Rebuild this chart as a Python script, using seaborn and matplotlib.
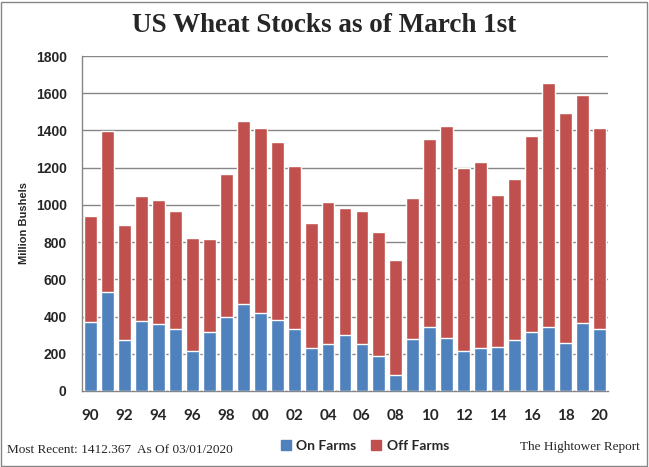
import numpy as np
import pandas as pd
import matplotlib.pyplot as plt
import seaborn as sns
from matplotlib.patches import Patch, Rectangle

years = [str(y % 100).zfill(2) for y in range(1990, 2021)]
on_farms = [371, 532, 274, 376, 362, 333, 215, 319, 398, 469, 419, 383, 333, 233,
            254, 301, 254, 190, 86, 279, 344, 287, 215, 233, 236, 276, 319, 344,
            258, 365, 333]
total = [940, 1397, 892, 1048, 1026, 967, 822, 817, 1166, 1451, 1413, 1338, 1209, 903,
         1015, 983, 967, 854, 704, 1037, 1354, 1424, 1198, 1230, 1053, 1139, 1370, 1655,
         1494, 1590, 1412]

df = pd.DataFrame({"year": years, "on": on_farms, "total": total})

sns.set_style("white")
plt.rcParams['font.family'] = ['Liberation Sans', 'DejaVu Sans']

blue = "#4F81BD"
red = "#C0504D"

fig = plt.figure(figsize=(6.49, 4.67), dpi=100)
ax = fig.add_axes([82 / 649, 76 / 467, 526 / 649, 335 / 467])

# off farms sits on top of on farms, so draw the total first in red
sns.barplot(data=df, x="year", y="total", order=years, color=red, width=0.76,
            saturation=1, ax=ax, zorder=3)
sns.barplot(data=df, x="year", y="on", order=years, color=blue, width=0.76,
            saturation=1, ax=ax, zorder=4)

ax.set_ylim(0, 1800)
ax.set_xlim(-0.5, len(years) - 0.5)
ax.set_yticks(np.arange(0, 1801, 200))
ax.yaxis.grid(True, color="#868686", linewidth=1.0, zorder=0)
ax.set_axisbelow(True)

ax.set_xticks(range(0, len(years), 2))
ax.set_xticklabels(years[::2], fontsize=11, fontweight="bold", family="Lato")
ax.set_xticks(np.arange(-0.5, len(years)), minor=True)
ax.tick_params(axis="x", which="major", length=0, pad=13)
ax.tick_params(axis="x", which="minor", length=5, color="#868686", width=1, direction="out")
ax.tick_params(axis="y", length=0, pad=11, labelsize=10)
for lab in ax.get_yticklabels():
    lab.set_fontweight("bold")

for side in ["top", "right"]:
    ax.spines[side].set_visible(False)
for side in ["left", "bottom"]:
    ax.spines[side].set_color("#868686")
    ax.spines[side].set_linewidth(1)

ax.set_xlabel("")
ax.set_ylabel("Million Bushels", fontsize=8, fontweight="bold", labelpad=5)

fig.text(0.5, 0.945, "US Wheat Stocks as of March 1st", ha="center", va="center",
         fontsize=19.5, fontweight="bold", family="Liberation Serif")
fig.text(0.011, 0.036, "Most Recent: 1412.367  As Of 03/01/2020", ha="left", va="center",
         fontsize=9.5, family="Liberation Serif")
fig.text(0.985, 0.043, "The Hightower Report", ha="right", va="center",
         fontsize=9.5, family="Liberation Serif")

handles = [Patch(color=blue, label="On Farms"), Patch(color=red, label="Off Farms")]
fig.legend(handles=handles, loc="center", bbox_to_anchor=(0.562, 0.045), ncol=2,
           frameon=False, handlelength=0.75, handleheight=0.75, handletextpad=0.4,
           columnspacing=1.0, prop={"family": "Lato", "weight": "bold", "size": 10})

fig.patches.append(Rectangle((0.002, 0.003), 0.995, 0.993, transform=fig.transFigure,
                             fill=False, edgecolor="#868686", linewidth=1))

fig.savefig("out.png", dpi=100)
